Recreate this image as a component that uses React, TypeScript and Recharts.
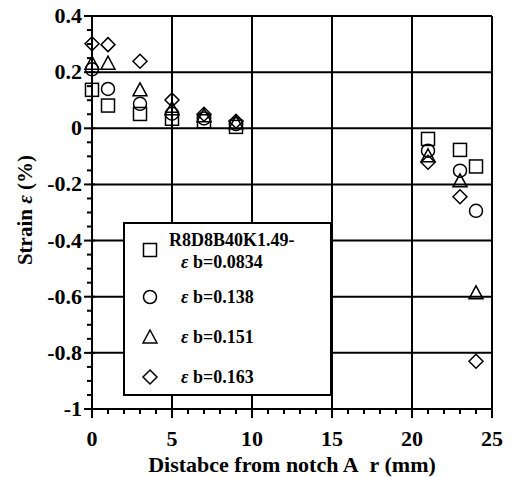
import { ScatterChart, Scatter, XAxis, YAxis, ReferenceLine } from 'recharts';

const FONT = '"Liberation Serif", "Times New Roman", serif';

// tick positions
const xMajor = [0, 5, 10, 15, 20, 25];
const xTicks = [0, 1, 2, 3, 4, 5, 6, 7, 8, 9, 10, 11, 12, 13, 14, 15, 16, 17, 18, 19, 20, 21, 22, 23, 24, 25];
const yMajor = [-1, -0.8, -0.6, -0.4, -0.2, 0, 0.2, 0.4];
const yTicks = [
  -1, -0.95, -0.9, -0.85, -0.8, -0.75, -0.7, -0.65, -0.6, -0.55, -0.5, -0.45, -0.4, -0.35, -0.3, -0.25,
  -0.2, -0.15, -0.1, -0.05, 0, 0.05, 0.1, 0.15, 0.2, 0.25, 0.3, 0.35, 0.4,
];

// distance from notch (mm)
const distance = [0, 1, 3, 5, 7, 9, 21, 23, 24];

// strain (%) for each specimen
const strainB0834 = [0.137, 0.081, 0.051, 0.034, 0.025, 0.005, -0.038, -0.077, -0.136];
const strainB138 = [0.21, 0.14, 0.087, 0.052, 0.035, 0.015, -0.08, -0.151, -0.294];
const strainB151 = [0.232, 0.232, 0.137, 0.07, 0.045, 0.02, -0.098, -0.187, -0.586];
const strainB163 = [0.301, 0.298, 0.239, 0.101, 0.05, 0.025, -0.121, -0.244, -0.83];

const toPoints = (ys: number[]) => distance.map((x, i) => ({ x, y: ys[i] }));

type ShapeKind = 'square' | 'circle' | 'triangle' | 'diamond';

function Marker({ kind, cx, cy }: { kind: ShapeKind; cx: number; cy: number }) {
  const common = { fill: 'none', stroke: '#000', strokeWidth: 1.5 };
  if (kind === 'square') return <rect x={cx - 6.5} y={cy - 6.5} width={13} height={13} {...common} />;
  if (kind === 'circle') return <circle cx={cx} cy={cy} r={6.5} {...common} />;
  if (kind === 'triangle')
    return <polygon points={`${cx},${cy - 7} ${cx - 7},${cy + 6} ${cx + 7},${cy + 6}`} {...common} />;
  return <polygon points={`${cx},${cy - 7} ${cx + 7},${cy} ${cx},${cy + 7} ${cx - 7},${cy}`} {...common} />;
}

const series: { name: string; kind: ShapeKind; data: { x: number; y: number }[] }[] = [
  { name: 'εb=0.0834', kind: 'square', data: toPoints(strainB0834) },
  { name: 'εb=0.138', kind: 'circle', data: toPoints(strainB138) },
  { name: 'εb=0.151', kind: 'triangle', data: toPoints(strainB151) },
  { name: 'εb=0.163', kind: 'diamond', data: toPoints(strainB163) },
];

const legendValues = ['0.0834', '0.138', '0.151', '0.163'];

const XTick = (props: any) => {
  const { x, y, payload } = props;
  const major = xMajor.includes(payload.value);
  return (
    <g>
      <line x1={x} x2={x} y1={y - (major ? 3 : 0)} y2={y + (major ? 9 : 5)} stroke="#000" strokeWidth={2} />
      {major && (
        <text x={x} y={y + 37} textAnchor="middle" style={{ fontFamily: FONT }} fontWeight="bold" fontSize={22} fill="#000">
          {payload.value}
        </text>
      )}
    </g>
  );
};

const YTick = (props: any) => {
  const { x, y, payload } = props;
  const v = payload.value;
  const major = Math.abs(v * 5 - Math.round(v * 5)) < 1e-6;
  return (
    <g>
      <line x1={x - (major ? 8 : 5)} x2={x + (major ? 3 : 0)} y1={y} y2={y} stroke="#000" strokeWidth={2} />
      {major && (
        <text x={x - 10} y={y + 7} textAnchor="end" style={{ fontFamily: FONT }} fontWeight="bold" fontSize={22} fill="#000">
          {String(Math.round(v * 10) / 10)}
        </text>
      )}
    </g>
  );
};

const LegendBox = () => {
  const rows = [28, 75, 115, 155];
  return (
    <svg width={209} height={174} style={{ display: 'block', position: 'absolute', left: 123, top: 222 }}>
      <rect x={1} y={1} width={207} height={172} fill="#fff" stroke="#000" strokeWidth={2} />
      {series.map((s, i) => (
        <Marker key={s.kind} kind={s.kind} cx={27} cy={rows[i]} />
      ))}
      <text x={46} y={24} style={{ fontFamily: FONT }} fontWeight="bold" fontSize={18} fill="#000">
        R8D8B40K1.49-
      </text>
      {legendValues.map((v, i) => (
        <text
          key={v}
          x={58}
          y={i === 0 ? 46 : rows[i] + 6}
          style={{ fontFamily: FONT }}
          fontWeight="bold"
          fontSize={18}
          fill="#000"
        >
          <tspan fontStyle="italic">ε</tspan> b={v}
        </text>
      ))}
    </svg>
  );
};

export default function App() {
  return (
    <div style={{ position: 'absolute', left: 0, top: 0, width: 512, height: 477, background: '#fff' }}>
      <ScatterChart width={512} height={477} margin={{ top: 16, right: 20, left: 0, bottom: 0 }}>
        <XAxis
          type="number"
          dataKey="x"
          domain={[0, 25]}
          ticks={xTicks}
          interval={0}
          tickSize={0}
          tickMargin={0}
          tick={<XTick />}
          height={68}
          axisLine={{ stroke: '#000', strokeWidth: 2 }}
          label={{
            value: 'Distabce from notch A\u00A0 r (mm)',
            position: 'insideBottom',
            offset: 5,
            style: { fontFamily: FONT, fontWeight: 'bold', fontSize: 22, fill: '#000' },
          }}
        />
        <YAxis
          type="number"
          dataKey="y"
          domain={[-1, 0.4]}
          ticks={yTicks}
          interval={0}
          tickSize={0}
          tickMargin={0}
          tick={<YTick />}
          width={92}
          axisLine={{ stroke: '#000', strokeWidth: 2 }}
          label={{
            content: () => (
              <text
                x={25}
                y={210}
                transform="rotate(-90 25 210)"
                textAnchor="middle"
                dominantBaseline="central"
                style={{ fontFamily: FONT }}
                fontWeight="bold"
                fontSize={21}
                fill="#000"
              >
                Strain <tspan fontStyle="italic">ε</tspan> (%)
              </text>
            ),
          }}
        />
        {xMajor.map((v) => (
          <ReferenceLine key={`vx${v}`} x={v} stroke="#000" strokeWidth={2} ifOverflow="visible" />
        ))}
        {yMajor.map((v) => (
          <ReferenceLine key={`hy${v}`} y={v} stroke="#000" strokeWidth={2} ifOverflow="visible" />
        ))}
        {series.map((s) => (
          <Scatter
            key={s.kind}
            name={s.name}
            data={s.data}
            isAnimationActive={false}
            shape={(p: any) => <Marker kind={s.kind} cx={p.cx} cy={p.cy} />}
          />
        ))}
      </ScatterChart>
      <LegendBox />
    </div>
  );
}
